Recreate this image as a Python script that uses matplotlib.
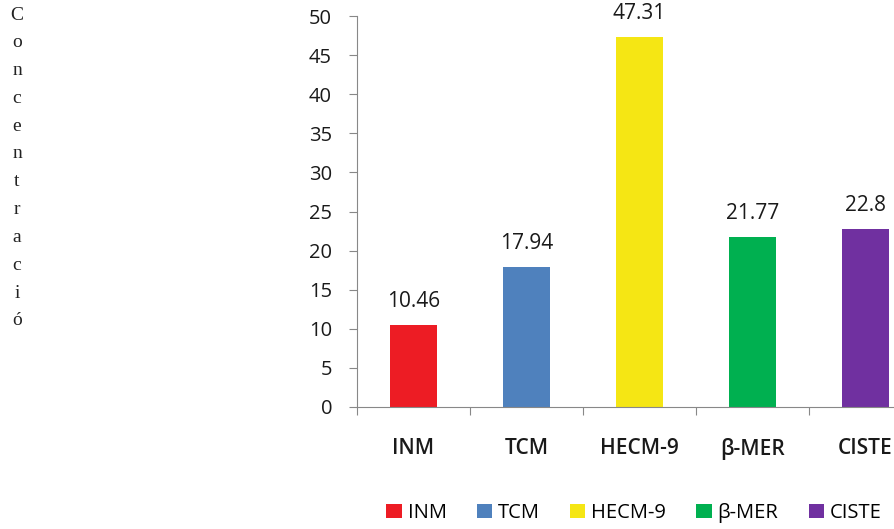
import matplotlib.pyplot as plt
from matplotlib.patches import Patch

categories = ["INM", "TCM", "HECM-9", "β-MER", "CISTE"]
values = [10.46, 17.94, 47.31, 21.77, 22.8]
value_labels = ["10.46", "17.94", "47.31", "21.77", "22.8"]
colors = ["#ED1C24", "#4F81BD", "#F5E614", "#00B050", "#7030A0"]
y_ticks = list(range(0, 55, 5))
side_label = "Concentració"

plt.rcParams['font.family'] = ['Open Sans', 'DejaVu Sans']

fig = plt.figure(figsize=(8.95, 5.29), dpi=100)
# the plot area runs past the right edge of the figure, so the last bar sits near the border
ax = fig.add_axes([357 / 895, 122 / 529, 565 / 895, 391 / 529])

pos = [i + 0.5 for i in range(len(categories))]
ax.bar(pos, values, width=0.41, color=colors)

for x, v, lab in zip(pos, values, value_labels):
    ax.annotate(lab, (x, v), xytext=(0, 17), textcoords='offset points',
                ha='center', va='center', fontsize=15, color='#1a1a1a')

ax.set_xlim(0, len(categories))
ax.set_ylim(0, 50)
ax.set_yticks(y_ticks)
ax.set_yticklabels([str(t) for t in y_ticks], fontsize=14.5, color='#1a1a1a')

# boundary ticks on the x axis, labels at the category centres
ax.set_xticks(range(len(categories) + 1))
ax.set_xticklabels([])
ax.set_xticks(pos, minor=True)
ax.set_xticklabels(categories, minor=True, fontsize=15, fontweight='semibold', color='#1a1a1a')
ax.tick_params(axis='x', which='minor', length=0, pad=22)
ax.tick_params(axis='x', which='major', length=6, color='#888888')
ax.tick_params(axis='y', length=6, color='#888888', pad=12)

for s in ['top', 'right']:
    ax.spines[s].set_visible(False)
for s in ['left', 'bottom']:
    ax.spines[s].set_color('#888888')

# vertical letters down the left side
for i, ch in enumerate(side_label):
    fig.text(17 / 895, 1 - (15 + i * 27.8) / 529, ch, ha='center', va='center',
             fontsize=14, family='Liberation Serif', color='#222222')

handles = [Patch(facecolor=c, label=n) for c, n in zip(colors, categories)]
fig.legend(handles=handles, loc='center', bbox_to_anchor=(634 / 895, 1 - 513 / 529),
           ncol=5, frameon=False, fontsize=14.5, handlelength=0.75, handleheight=0.75,
           handletextpad=0.3, columnspacing=1.5)

fig.savefig("out.png", dpi=100)
